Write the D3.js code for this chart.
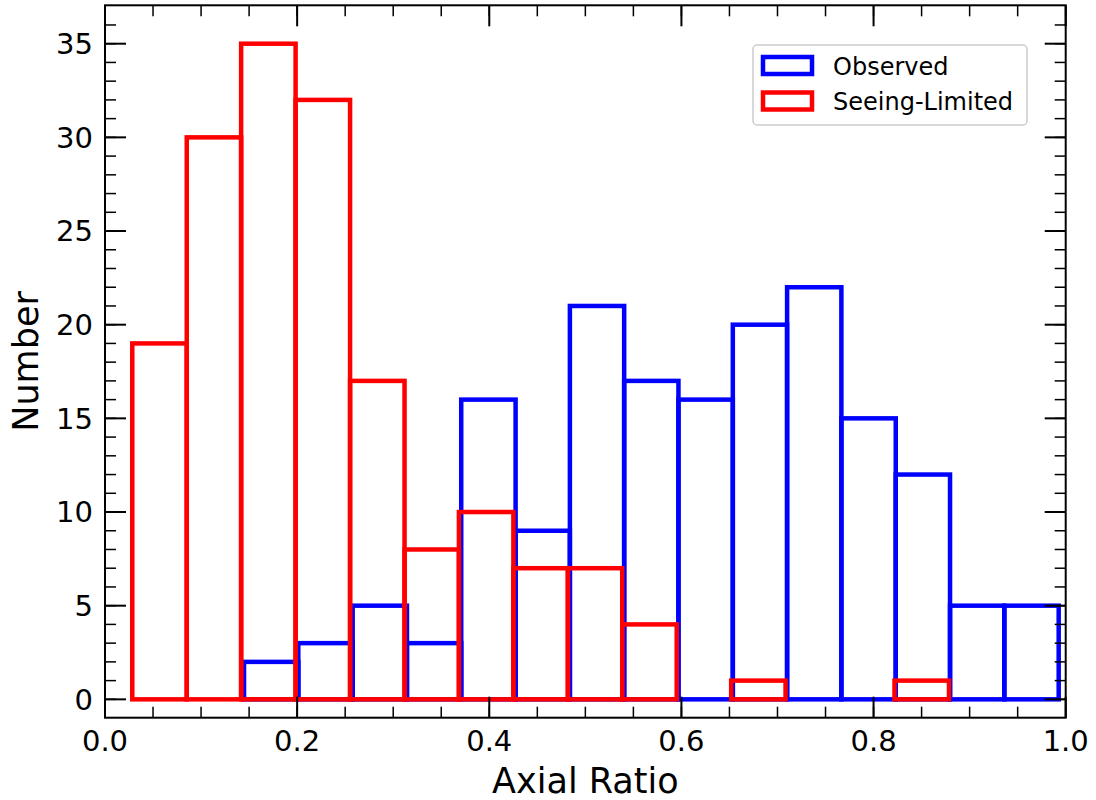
<!DOCTYPE html>
<html>
<head>
<meta charset="utf-8">
<script src="https://d3js.org/d3.v7.min.js"></script>
<style>
  body { margin: 0; background: #fff; }
  svg { font-family: "DejaVu Sans", sans-serif; }
</style>
</head>
<body>
<div id="chart"></div>
<script>

// histogram bins
var observedEdges = [0.1447, 0.2012, 0.2578, 0.3143, 0.3708, 0.4274, 0.4839, 0.5404,
                     0.5969, 0.6535, 0.7100, 0.7665, 0.8231, 0.8796, 0.9361, 0.9927];
var observedCounts = [2, 3, 5, 3, 16, 9, 21, 17, 16, 20, 22, 15, 12, 5, 5];

var seeingEdges = [0.0284, 0.0851, 0.1417, 0.1984, 0.2551, 0.3118, 0.3684, 0.4251,
                   0.4818, 0.5384, 0.5951, 0.6518, 0.7084, 0.7651, 0.8218, 0.8785];
var seeingCounts = [19, 30, 35, 32, 17, 8, 10, 7, 7, 4, 0, 1, 0, 0, 1];

var xTicks = [0, 0.2, 0.4, 0.6, 0.8, 1.0];
var yTicks = [0, 5, 10, 15, 20, 25, 30, 35];
var seriesNames = ["Observed", "Seeing-Limited"];
var seriesColors = ["#0000ff", "#ff0000"];

var width = 1096, height = 800;
var margin = {top: 5.3, right: 30.3, bottom: 82.3, left: 105};
var innerW = width - margin.left - margin.right;
var innerH = height - margin.top - margin.bottom;

var x = d3.scaleLinear().domain([0, 1]).range([0, innerW]);
var y = d3.scaleLinear().domain([-0.98, 37.05]).range([innerH, 0]);

var svg = d3.select("#chart").append("svg")
    .attr("width", width)
    .attr("height", height);

var g = svg.append("g")
    .attr("transform", "translate(" + margin.left + "," + margin.top + ")");

// bars as open rectangles
function drawBars(edges, counts, color) {
  var bins = counts.map(function (c, i) { return {x0: edges[i], x1: edges[i + 1], n: c}; });
  g.append("g").selectAll("rect")
    .data(bins)
    .enter()
    .append("rect")
    .attr("x", function (d) { return x(d.x0); })
    .attr("width", function (d) { return x(d.x1) - x(d.x0); })
    .attr("y", function (d) { return y(d.n); })
    .attr("height", function (d) { return y(0) - y(d.n); })
    .attr("fill", "none")
    .attr("stroke", color)
    .attr("stroke-width", 4.5);
}
drawBars(observedEdges, observedCounts, seriesColors[0]);
drawBars(seeingEdges, seeingCounts, seriesColors[1]);

// ticks pointing inward on all four sides
var majorLen = 21, minorLen = 11;
var xMinor = d3.range(0, 1.0001, 0.05);
var yMinor = d3.range(0, 37, 1);

function tickLines(values, scale, horizontal, len, sw) {
  var t = g.append("g").attr("stroke", "#000").attr("stroke-width", sw);
  values.forEach(function (v) {
    var p = scale(v);
    if (horizontal) {
      t.append("line").attr("x1", p).attr("x2", p).attr("y1", innerH).attr("y2", innerH - len);
      t.append("line").attr("x1", p).attr("x2", p).attr("y1", 0).attr("y2", len);
    } else {
      t.append("line").attr("y1", p).attr("y2", p).attr("x1", 0).attr("x2", len);
      t.append("line").attr("y1", p).attr("y2", p).attr("x1", innerW).attr("x2", innerW - len);
    }
  });
}
tickLines(xMinor, x, true, minorLen, 1.5);
tickLines(yMinor, y, false, minorLen, 1.5);
tickLines(xTicks, x, true, majorLen, 2);
tickLines(yTicks, y, false, majorLen, 2);

// frame
g.append("rect")
  .attr("width", innerW)
  .attr("height", innerH)
  .attr("fill", "none")
  .attr("stroke", "#000")
  .attr("stroke-width", 2);

// tick labels
g.append("g").selectAll("text")
  .data(xTicks)
  .enter()
  .append("text")
  .attr("x", function (d) { return x(d); })
  .attr("y", innerH + 33.5)
  .attr("text-anchor", "middle")
  .attr("font-size", "29px")
  .text(function (d) { return d3.format(".1f")(d); });

g.append("g").selectAll("text")
  .data(yTicks)
  .enter()
  .append("text")
  .attr("x", -12)
  .attr("y", function (d) { return y(d); })
  .attr("dy", "0.36em")
  .attr("text-anchor", "end")
  .attr("font-size", "29px")
  .text(function (d) { return d; });

// axis titles
svg.append("text")
  .attr("x", margin.left + innerW / 2)
  .attr("y", 793)
  .attr("text-anchor", "middle")
  .attr("font-size", "35px")
  .text("Axial Ratio");

svg.append("text")
  .attr("transform", "translate(38," + (margin.top + innerH / 2) + ") rotate(-90)")
  .attr("text-anchor", "middle")
  .attr("font-size", "35px")
  .text("Number");

// legend
var legend = svg.append("g").attr("transform", "translate(753,45)");
legend.append("rect")
  .attr("width", 274)
  .attr("height", 80)
  .attr("rx", 4)
  .attr("fill", "#fff")
  .attr("fill-opacity", 0.8)
  .attr("stroke", "#cccccc")
  .attr("stroke-width", 1.5);

seriesNames.forEach(function (name, i) {
  var row = legend.append("g").attr("transform", "translate(0," + (i * 35.5) + ")");
  row.append("rect")
    .attr("x", 10)
    .attr("y", 12)
    .attr("width", 49)
    .attr("height", 17)
    .attr("fill", "none")
    .attr("stroke", seriesColors[i])
    .attr("stroke-width", 4.5);
  row.append("text")
    .attr("x", 80)
    .attr("y", 21)
    .attr("dy", "0.36em")
    .attr("font-size", "24px")
    .text(name);
});

</script>
</body>
</html>
